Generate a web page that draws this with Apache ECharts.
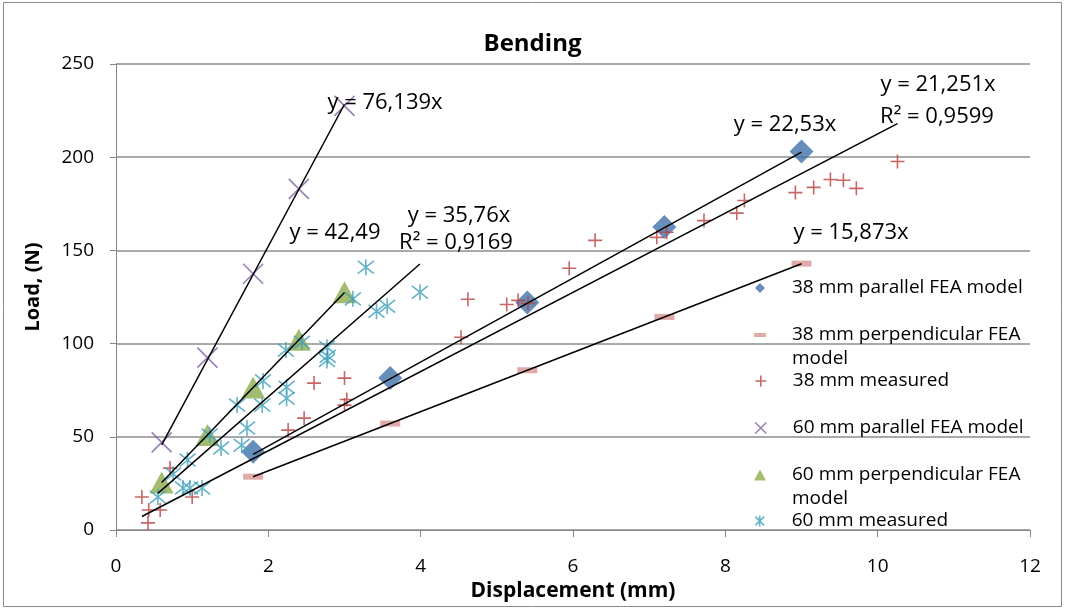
<!DOCTYPE html>
<html lang="en">
<head>
    <meta charset="UTF-8">
    <title>Bending</title>
    <script src="https://cdn.jsdelivr.net/npm/echarts@6/dist/echarts.min.js"></script>
    <style>
        *{
            margin: 0;
            padding: 0;
        }
        body{
            background: #fff;
            overflow: hidden;
        }
        .container{
            width: 1065px;
            height: 610px;
        }
    </style>
</head>
<body>
<div class="container"></div>
<script>
    // values
    let xTicks = [0, 2, 4, 6, 8, 10, 12];
    let yTicks = [0, 50, 100, 150, 200, 250];

    let names = [
        '38 mm parallel FEA model',
        '38 mm perpendicular FEA model',
        '38 mm measured',
        '60 mm parallel FEA model',
        '60 mm perpendicular FEA model',
        '60 mm measured'
    ];

    let fea38Par = [[1.8, 42], [3.6, 81.5], [5.4, 122], [7.2, 162.5], [9.0, 203]];
    let fea38Perp = [[1.8, 28.6], [3.6, 57.1], [5.4, 85.7], [7.2, 114.3], [9.0, 142.9]];
    let meas38 = [
        [0.34, 17.7], [0.43, 10.7], [0.42, 3.8], [0.58, 10.7], [0.71, 33.2], [1.0, 17.7],
        [2.26, 53.6], [2.47, 60], [2.6, 78.8], [3.0, 81.5], [3.0, 67], [3.03, 70],
        [4.53, 103.4], [4.62, 123.8], [5.13, 121], [5.28, 123.2], [5.41, 121.6],
        [5.95, 140.4], [6.29, 155.4], [7.1, 157], [7.23, 159.7], [7.72, 166],
        [8.15, 170], [8.25, 176.8], [8.92, 181], [9.16, 183.8], [9.38, 188],
        [9.55, 187.6], [9.72, 183.3], [10.26, 197.7]
    ];
    let fea60Par = [[0.6, 47], [1.2, 92.5], [1.8, 137.5], [2.4, 183], [3.0, 227.5]];
    let fea60Perp = [[0.6, 25.5], [1.2, 51], [1.8, 76.5], [2.4, 102], [3.0, 127.5]];
    let meas60 = [
        [0.55, 17.7], [0.75, 30], [0.88, 22.5], [0.94, 37.5], [0.97, 22.5], [1.13, 22.5],
        [1.23, 51], [1.38, 44], [1.59, 67], [1.65, 45.5], [1.72, 54.7], [1.92, 67],
        [1.93, 80], [2.23, 96.5], [2.24, 76.6], [2.24, 70.7], [2.44, 100.7], [2.77, 98],
        [2.78, 93.2], [2.77, 91], [3.11, 124], [3.28, 141], [3.42, 117.4], [3.56, 120],
        [3.99, 127.5]
    ];

    // trendline slopes (through origin), same order as names
    let slopes = [22.53, 15.873, 21.251, 76.139, 42.49, 35.76];
    let trendLabels = [
        ['y = 22,53x', 785, 125],
        ['y = 15,873x', 851, 233],
        ['y = 21,251x', 938, 85],
        ['R² = 0,9599', 937, 117],
        ['y = 76,139x', 385, 103],
        ['y = 42,49', 335, 233],
        ['y = 35,76x', 459, 216],
        ['R² = 0,9169', 456, 243]
    ];

    let allData = [fea38Par, fea38Perp, meas38, fea60Par, fea60Perp, meas60];
    let colors = ['#4170aa', '#d99593', '#b8403e', '#7d61a0', '#8dab4c', '#3d9fbb'];
    let symbols = [
        'diamond',
        'rect',
        'path://M5,0L5,10M0,5L10,5',
        'path://M0,0L10,10M10,0L0,10',
        'triangle',
        'path://M1,1L9,9M9,1L1,9M5,0L5,10'
    ];
    let sizes = [24, [20, 6], 14, 20, [24, 22], 16];
    let stroked = [false, false, true, true, false, true];
    let legendIcon = [[10, 10], [12, 4], [11, 11], [11, 11], [12, 11], [11, 11]];
    let legendRows = [288, 335, 381, 428, 475, 521];

    let font = '"Open Sans", "DejaVu Sans", sans-serif';

    let mycharts = echarts.init(document.querySelector('.container'));

    let series = [];
    allData.forEach((d, i) => {
        series.push({
            name: names[i],
            type: 'scatter',
            data: d,
            symbol: symbols[i],
            symbolSize: sizes[i],
            itemStyle: stroked[i]
                ? {color: 'rgba(0,0,0,0)', borderColor: colors[i], borderWidth: 1.6}
                : {color: colors[i]},
            z: 2
        });
    });

    allData.forEach((d, i) => {
        let xs = d.map(p => p[0]);
        let x0 = Math.min(...xs), x1 = Math.max(...xs);
        series.push({
            type: 'line',
            data: [[x0, slopes[i] * x0], [x1, slopes[i] * x1]],
            symbol: 'none',
            lineStyle: {color: '#000', width: 1.5},
            silent: true,
            z: 3
        });
    });

    let legends = names.map((n, i) => {
        let w = legendIcon[i][0], h = legendIcon[i][1];
        let wrapped = n.replace(' FEA model', ' FEA\nmodel');
        let label = n.indexOf('perpendicular') > -1 ? '\n' + wrapped : '\n' + n + '\n';
        return {
            data: [n],
            left: 760 - w / 2,
            top: legendRows[i] - 36,
            padding: 0,
            itemWidth: w,
            itemHeight: h,
            itemStyle: {borderWidth: 1.6},
            formatter: () => label,
            textStyle: {
                fontFamily: font,
                fontSize: 19,
                color: '#000',
                lineHeight: 24,
                padding: [0, 0, 0, 27 - w / 2]
            },
            selectedMode: false
        };
    });

    let graphics = [{
        type: 'rect',
        shape: {x: 3.5, y: 2.5, width: 1058, height: 604},
        style: {fill: 'none', stroke: '#8a8a8a', lineWidth: 1},
        silent: true
    }, {
        type: 'text',
        x: 33, y: 287,
        rotation: Math.PI / 2,
        style: {
            text: 'Load, (N)', fill: '#000', align: 'center', verticalAlign: 'middle',
            font: 'bold 20px ' + font
        }
    }];
    trendLabels.forEach(t => {
        graphics.push({
            type: 'text',
            x: t[1], y: t[2],
            style: {
                text: t[0], fill: '#000', align: 'center', verticalAlign: 'middle',
                font: '22px ' + font
            },
            z: 10
        });
    });

    let options = {
        backgroundColor: '#fff',
        animation: false,
        title: {
            text: 'Bending',
            left: 'center',
            top: 27,
            textStyle: {fontFamily: font, fontSize: 24, fontWeight: 'bold', color: '#000'}
        },
        grid: {left: 116, right: 35, top: 64, bottom: 80},
        legend: legends,
        xAxis: {
            type: 'value',
            min: xTicks[0],
            max: xTicks[xTicks.length - 1],
            interval: xTicks[1] - xTicks[0],
            name: 'Displacement (mm)',
            nameLocation: 'middle',
            nameGap: 50,
            nameTextStyle: {fontFamily: font, fontSize: 21, fontWeight: 'bold', color: '#000'},
            axisLine: {lineStyle: {color: '#868686', width: 1}},
            axisTick: {show: true, length: 7, lineStyle: {color: '#868686'}},
            axisLabel: {fontFamily: font, fontSize: 19, color: '#000', margin: 27},
            splitLine: {show: false}
        },
        yAxis: {
            type: 'value',
            min: yTicks[0],
            max: yTicks[yTicks.length - 1],
            interval: yTicks[1] - yTicks[0],
            axisLine: {show: true, lineStyle: {color: '#868686', width: 1}},
            axisTick: {show: true, length: 6, lineStyle: {color: '#868686'}},
            axisLabel: {fontFamily: font, fontSize: 19, color: '#000', margin: 22},
            splitLine: {show: true, lineStyle: {color: '#8c8c8c', width: 1.5}}
        },
        graphic: graphics,
        series
    };

    mycharts.setOption(options);
</script>
</body>
</html>
